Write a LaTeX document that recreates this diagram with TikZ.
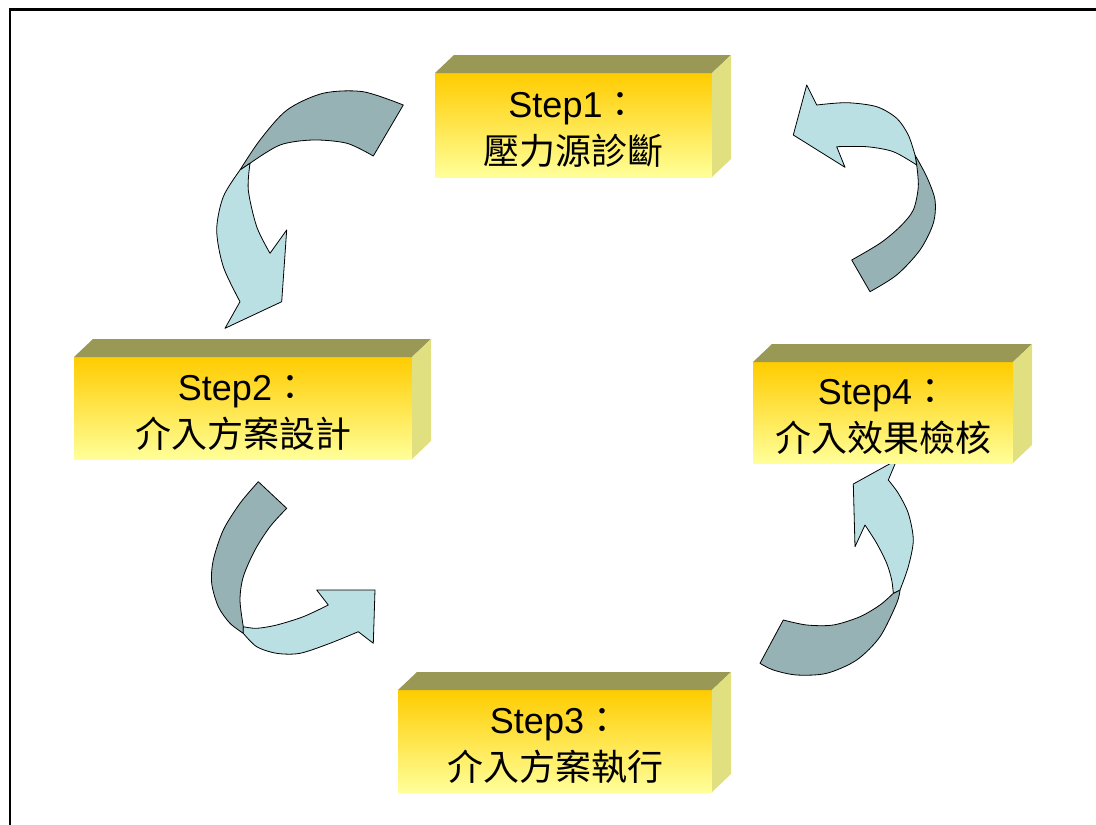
\documentclass[tikz,border=0pt]{standalone}
\usepackage{fontspec}
\setmainfont{Liberation Sans}
\newfontfamily\cjk{Noto Sans CJK TC}
\definecolor{ribdark}{RGB}{150,178,180}
\definecolor{riblight}{RGB}{187,224,227}
\definecolor{facetop}{RGB}{153,153,85}
\definecolor{faceside}{RGB}{224,224,128}
\definecolor{frontgold}{RGB}{255,204,0}
\definecolor{frontpale}{RGB}{255,255,153}

% one 3-D step block: name, centre x, centre y, width, height, title, caption
\newcommand\stepblock[7]{%
  \node[face,minimum width=#4pt,minimum height=#5pt] (#1) at (#2,#3) {};
  \fill[topface] (#1.north west) -- ++(19,-18) -- ([shift={(19,-18)}]#1.north east) -- (#1.north east) -- cycle;
  \fill[sideface] (#1.north east) -- ++(19,-18) -- ([shift={(19,-18)}]#1.south east) -- (#1.south east) -- cycle;
  \node[lab] (#1a) at ([yshift=8pt]#1.center) {#6\cjk ：};
  \node[lab] (#1b) at ([yshift=-39pt]#1.center) {\cjk #7};
}

\begin{document}
\begin{tikzpicture}[x=1pt,y=-1pt,
  ribbon/.style={draw=black,line width=0.8pt,line join=round},
  back/.style={ribbon,fill=ribdark},
  front/.style={ribbon,fill=riblight},
  face/.style={rectangle,inner sep=0pt,outer sep=0pt,top color=frontgold,bottom color=frontpale},
  topface/.style={fill=facetop},
  sideface/.style={fill=faceside},
  lab/.style={anchor=base,inner sep=0pt,font=\fontsize{36}{40}\selectfont},
]
\useasboundingbox (0,0) rectangle (1096,825);
\fill[white] (0,0) rectangle (1096,825);
\draw[line width=2.5pt] (10,825) -- (10,9.5) -- (1096,9.5);

% ribbon arrow: step 1 -> step 2
\path[back] plot[smooth] coordinates {(403.3,105) (363,91.7) (323,93.3) (287,110) (260,140) (240,170)}
  -- plot[smooth] coordinates {(250,163.3) (280,145) (313,140) (347,143.3) (373.3,156)} -- cycle;
\path[front] plot[smooth] coordinates {(240,170) (223.3,196.7) (216.7,230) (223.3,266.7) (240,301.7)}
  -- (225,328.3) -- (281.7,301.7) -- (286.7,230) -- (270,253.3)
  -- plot[smooth] coordinates {(270,253.3) (256.7,226.7) (248.3,190) (250,163.3)} -- cycle;

% ribbon arrow: step 4 -> step 1
\path[back] plot[smooth] coordinates {(916.7,165) (918.3,186.7) (913.3,210) (900,226.7) (880,243.3) (851.7,260)}
  -- (870,291.7)
  -- plot[smooth] coordinates {(870,291.7) (896.7,275) (920,250) (933.3,223.3) (935,200) (926.7,176.7) (915,155)} -- cycle;
\path[front] plot[smooth] coordinates {(915,155) (908.3,135) (896.7,118.3) (876.7,106.7) (846.7,102.7) (816.7,105)}
  -- (806.7,85) -- (793.3,135) -- (845,167.3) -- (836.7,146.7)
  -- plot[smooth] coordinates {(836.7,146.7) (866.7,146.7) (893.3,151.7) (916.7,165)} -- cycle;

% ribbon arrow: step 2 -> step 3
\path[back] plot[smooth] coordinates {(258.3,481.7) (240,503.3) (223.3,530) (213.3,560) (211.7,583.3) (218.3,606.7) (230,623.3) (243.3,633.3)}
  -- plot[smooth] coordinates {(243.3,626.7) (240,600) (243.3,576.7) (255,550) (270,526.7) (286.7,508.3)} -- cycle;
\path[front] plot[smooth] coordinates {(243.3,633.3) (256.7,646.7) (276.7,653.3) (300,653.3) (330,643.3) (358.3,631.7)}
  -- (373.3,643.3) -- (375,590) -- (316.7,590) -- (328.3,605)
  -- plot[smooth] coordinates {(328.3,605) (303.3,616.7) (276.7,625) (256.7,628.3) (243.3,626.7)} -- cycle;

% ribbon arrow: step 3 -> step 4
\path[back] plot[smooth] coordinates {(783.3,620) (806.7,625) (833.3,625) (860,616.7) (880,605) (893.3,593.3)}
  -- plot[smooth] coordinates {(900,590) (896.7,603.3) (880,636.7) (856.7,660) (826.7,673.3) (796.7,675) (773.3,670) (760,663.3)} -- cycle;
\path[front] plot[smooth] coordinates {(900,590) (908.3,566.7) (913.3,540) (908.3,513.3) (898.3,493.3) (888.3,480)}
  -- (896.7,460) -- (853.3,484) -- (855,546.7) -- (865,525)
  -- plot[smooth] coordinates {(865,525) (876.7,543.3) (886.7,563.3) (891.7,580) (893.3,593.3)} -- cycle;

% step blocks
\stepblock{s1}{573.5}{125}{277}{104}{Step1}{壓力源診斷}
\stepblock{s2}{243}{408}{338}{102}{Step2}{介入方案設計}
\stepblock{s3}{555}{741}{314}{102}{Step3}{介入方案執行}
\stepblock{s4}{883}{412.5}{260}{101}{Step4}{介入效果檢核}
\end{tikzpicture}
\end{document}
